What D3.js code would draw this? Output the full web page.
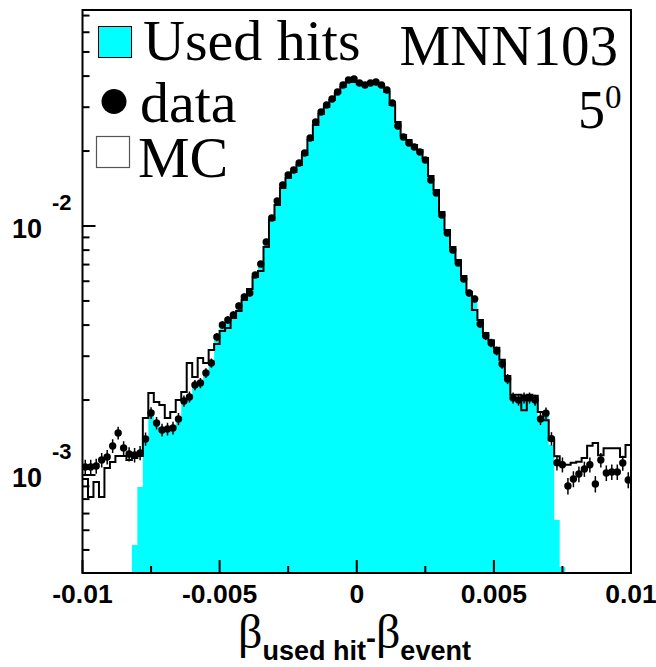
<!DOCTYPE html>
<html>
<head>
<meta charset="utf-8">
<script src="https://cdn.jsdelivr.net/npm/d3@7"></script>
<style>
  html, body { margin: 0; padding: 0; background: #fff; }
  svg { display: block; }
</style>
</head>
<body>
<svg id="chart" width="656" height="667"></svg>
<script>
// Histogram binning: 100 bins over [-0.01, 0.01]
const binLow = -0.01;
const binHigh = 0.01;
const nBins = 100;

// Normalised distribution of beta(used hit) - beta(event), measured data
const dataValues = [
  1.077e-3, 1.077e-3, 1.087e-3, 1.149e-3, 1.181e-3, 1.308e-3, 1.475e-3, 1.284e-3, 1.214e-3, 1.203e-3,
  1.226e-3, 1.395e-3, 1.774e-3, 1.617e-3, 1.516e-3, 1.530e-3, 1.545e-3, 1.679e-3, 1.982e-3, 2.058e-3,
  2.298e-3, 2.342e-3, 2.568e-3, 2.818e-3, 3.583e-3, 4.003e-3, 4.193e-3, 4.391e-3, 4.771e-3, 5.187e-3,
  5.382e-3, 6.357e-3, 7.037e-3, 8.625e-3, 1.077e-2, 1.260e-2, 1.461e-2, 1.603e-2, 1.679e-2, 1.791e-2,
  1.964e-2, 2.256e-2, 2.616e-2, 2.870e-2, 3.062e-2, 3.236e-2, 3.452e-2, 3.684e-2, 3.858e-2, 3.894e-2,
  3.752e-2, 3.684e-2, 3.752e-2, 3.787e-2, 3.684e-2, 3.516e-2, 3.119e-2, 2.521e-2, 2.278e-2, 2.154e-2,
  2.076e-2, 1.982e-2, 1.841e-2, 1.530e-2, 1.357e-2, 1.107e-2, 9.37e-3, 8.01e-3, 7.10e-3, 6.12e-3,
  5.38e-3, 5.09e-3, 4.04e-3, 3.62e-3, 3.39e-3, 3.15e-3, 2.79e-3, 2.43e-3, 2.04e-3, 2.00e-3,
  2.04e-3, 2.04e-3, 2.00e-3, 1.68e-3, 1.77e-3, 1.40e-3, 1.12e-3, 1.10e-3, 9.03e-4, 9.64e-4,
  1.009e-3, 1.057e-3, 1.10e-3, 9.20e-4, 1.149e-3, 1.019e-3, 1.028e-3, 1.028e-3, 1.117e-3, 9.55e-4
];

// Simulation (MC) histogram
const mcValues = [
  9.64e-4, 8.16e-4, 9.37e-4, 8.16e-4, 1.067e-3, 1.128e-3, 1.192e-3, 1.192e-3, 1.149e-3, 1.170e-3,
  1.192e-3, 1.694e-3, 2.136e-3, 1.964e-3, 1.910e-3, 1.694e-3, 1.791e-3, 2.000e-3, 2.154e-3, 2.818e-3,
  2.474e-3, 2.951e-3, 2.818e-3, 3.177e-3, 3.359e-3, 3.788e-3, 3.895e-3, 4.271e-3, 4.557e-3, 5.045e-3,
  5.584e-3, 6.239e-3, 6.596e-3, 8.236e-3, 1.057e-2, 1.214e-2, 1.421e-2, 1.559e-2, 1.648e-2, 1.758e-2,
  1.928e-2, 2.215e-2, 2.544e-2, 2.818e-2, 3.005e-2, 3.206e-2, 3.420e-2, 3.616e-2, 3.787e-2, 3.787e-2,
  3.718e-2, 3.718e-2, 3.718e-2, 3.718e-2, 3.650e-2, 3.452e-2, 3.062e-2, 2.616e-2, 2.320e-2, 2.215e-2,
  2.115e-2, 2.020e-2, 1.876e-2, 1.588e-2, 1.395e-2, 1.138e-2, 9.64e-3, 8.24e-3, 7.30e-3, 6.30e-3,
  5.43e-3, 4.60e-3, 4.19e-3, 3.72e-3, 3.48e-3, 3.24e-3, 2.90e-3, 2.50e-3, 2.10e-3, 2.10e-3,
  1.82e-3, 2.10e-3, 2.08e-3, 1.79e-3, 1.66e-3, 1.38e-3, 1.19e-3, 1.10e-3, 1.10e-3, 1.12e-3,
  1.13e-3, 1.17e-3, 1.31e-3, 1.344e-3, 1.20e-3, 1.28e-3, 1.28e-3, 1.28e-3, 1.18e-3, 1.32e-3
];

// Hits kept by the fit (inside the acceptance window)
const usedHitsValues = [
  0, 0, 0, 0, 0, 0, 0, 0, 0, 5.24e-4,
  8.95e-4, 1.38e-3, 1.774e-3, 1.617e-3, 1.516e-3, 1.530e-3, 1.545e-3, 1.679e-3, 1.982e-3, 2.058e-3,
  2.298e-3, 2.342e-3, 2.568e-3, 2.818e-3, 3.583e-3, 4.003e-3, 4.193e-3, 4.391e-3, 4.771e-3, 5.187e-3,
  5.382e-3, 6.357e-3, 7.037e-3, 8.625e-3, 1.077e-2, 1.260e-2, 1.461e-2, 1.603e-2, 1.679e-2, 1.791e-2,
  1.964e-2, 2.256e-2, 2.616e-2, 2.870e-2, 3.062e-2, 3.236e-2, 3.452e-2, 3.684e-2, 3.858e-2, 3.894e-2,
  3.752e-2, 3.684e-2, 3.752e-2, 3.787e-2, 3.684e-2, 3.516e-2, 3.119e-2, 2.521e-2, 2.278e-2, 2.154e-2,
  2.076e-2, 1.982e-2, 1.841e-2, 1.530e-2, 1.357e-2, 1.107e-2, 9.37e-3, 8.01e-3, 7.10e-3, 6.12e-3,
  5.38e-3, 5.09e-3, 4.04e-3, 3.62e-3, 3.39e-3, 3.15e-3, 2.79e-3, 2.43e-3, 2.04e-3, 2.00e-3,
  2.04e-3, 2.04e-3, 2.00e-3, 1.68e-3, 1.77e-3, 1.32e-3, 6.60e-4, 4.27e-4, 0, 0,
  0, 0, 0, 0, 0, 0, 0, 0, 0, 0
];

// Entries behind the normalised data (sets the Poisson error bars)
const totalEntries = 190000;

// Axis ranges and tick labels
const xDomain = [-0.01, 0.01];
const yDomain = [4.04e-4, 0.0737];
const xTickValues = [-0.01, -0.0075, -0.005, -0.0025, 0, 0.0025, 0.005, 0.0075, 0.01];
const xLabelValues = [-0.01, -0.005, 0, 0.005, 0.01];
const xLabelTexts = ["-0.01", "-0.005", "0", "0.005", "0.01"];
const yDecadeValues = [1e-3, 1e-2];
const yDecadeExponents = ["-3", "-2"];

const legendLabels = ["Used hits", "data", "MC"];
const detectorLabel = "MNN103";
const angleLabel = "5";
const angleSup = "0";

// ---- layout ----
const plot = { left: 82.5, right: 631, top: 10, bottom: 573 };
const cyan = "#00ffff";
const serif = "'Liberation Serif', 'Times New Roman', serif";
const sans = "'Liberation Sans', Arial, Helvetica, sans-serif";

const svg = d3.select("#chart");

const x = d3.scaleLinear().domain(xDomain).range([plot.left, plot.right]);
const y = d3.scaleLog().domain(yDomain).range([plot.bottom, plot.top]);

const binWidth = (binHigh - binLow) / nBins;
const edge = i => binLow + i * binWidth;

svg.append("defs").append("clipPath").attr("id", "plotClip")
  .append("rect")
  .attr("x", plot.left).attr("y", plot.top)
  .attr("width", plot.right - plot.left).attr("height", plot.bottom - plot.top);

const g = svg.append("g").attr("clip-path", "url(#plotClip)");

// Used-hits filled histogram: one step area per contiguous non-empty run
const runs = [];
let cur = null;
usedHitsValues.forEach((v, i) => {
  if (v > 0) {
    if (!cur) { cur = []; runs.push(cur); }
    cur.push({ x: edge(i), v: v });
  } else {
    if (cur) cur.push({ x: edge(i), v: cur[cur.length - 1].v });
    cur = null;
  }
});
if (cur) cur.push({ x: binHigh, v: cur[cur.length - 1].v });

const area = d3.area()
  .x(d => x(d.x))
  .y0(plot.bottom + 5)
  .y1(d => y(d.v))
  .curve(d3.curveStepAfter);

runs.forEach(r => {
  g.append("path").attr("d", area(r)).attr("fill", cyan).attr("stroke", "none");
});

// MC step outline
const mcPts = mcValues.map((v, i) => ({ x: edge(i), v: v }));
mcPts.push({ x: binHigh, v: mcValues[nBins - 1] });
const line = d3.line().x(d => x(d.x)).y(d => y(d.v)).curve(d3.curveStepAfter);
g.append("path").attr("d", line(mcPts))
  .attr("fill", "none").attr("stroke", "#000").attr("stroke-width", 2);

// Data points with statistical errors
const dataPts = dataValues.map((v, i) => {
  const err = Math.sqrt(v / totalEntries);
  return { xc: edge(i) + binWidth / 2, v: v, lo: v - err, hi: v + err };
});
g.selectAll("line.err").data(dataPts).enter().append("line")
  .attr("class", "err")
  .attr("x1", d => x(d.xc)).attr("x2", d => x(d.xc))
  .attr("y1", d => y(d.lo)).attr("y2", d => y(d.hi))
  .attr("stroke", "#000").attr("stroke-width", 1.5);
g.selectAll("circle.pt").data(dataPts).enter().append("circle")
  .attr("class", "pt")
  .attr("cx", d => x(d.xc)).attr("cy", d => y(d.v)).attr("r", 3.7)
  .attr("fill", "#000");

// Frame
svg.append("rect")
  .attr("x", plot.left).attr("y", plot.top)
  .attr("width", plot.right - plot.left).attr("height", plot.bottom - plot.top)
  .attr("fill", "none").attr("stroke", "#000").attr("stroke-width", 2);

// X ticks (inward)
const axes = svg.append("g").attr("stroke", "#000").attr("stroke-width", 2);
xTickValues.forEach(t => {
  const major = Math.abs(Math.round(t / 0.005) * 0.005 - t) < 1e-9;
  axes.append("line")
    .attr("x1", x(t)).attr("x2", x(t))
    .attr("y1", plot.bottom).attr("y2", plot.bottom - (major ? 13 : 7));
});

// Y ticks (log, inward)
const yTicks = [];
[1e-4, 1e-3, 1e-2].forEach(dec => {
  for (let k = 1; k <= 9; k++) {
    const v = k * dec;
    if (v >= yDomain[0] && v <= yDomain[1]) yTicks.push({ v: v, major: k === 1 });
  }
});
yTicks.forEach(t => {
  axes.append("line")
    .attr("x1", plot.left).attr("x2", plot.left + (t.major ? 13 : 7))
    .attr("y1", y(t.v)).attr("y2", y(t.v));
});

// X tick labels
svg.append("g").selectAll("text").data(xLabelValues).enter().append("text")
  .attr("x", d => x(d)).attr("y", 603)
  .attr("text-anchor", "middle")
  .attr("font-family", sans).attr("font-weight", "bold").attr("font-size", 26.5)
  .text((d, i) => xLabelTexts[i]);

// Y decade labels: 10 with exponent
yDecadeValues.forEach((v, i) => {
  const yy = y(v);
  svg.append("text")
    .attr("x", 42).attr("y", yy + 12).attr("text-anchor", "end")
    .attr("font-family", sans).attr("font-weight", "bold").attr("font-size", 27)
    .text("10");
  svg.append("text")
    .attr("x", 52).attr("y", yy - 16)
    .attr("font-family", sans).attr("font-weight", "bold").attr("font-size", 22)
    .text(yDecadeExponents[i]);
});

// Axis title: beta_{used hit} - beta_{event}
const title = svg.append("text").attr("x", 238).attr("y", 648);
title.append("tspan").attr("font-family", serif).attr("font-size", 48).text("β");
title.append("tspan").attr("font-family", sans).attr("font-weight", "bold")
  .attr("font-size", 27).attr("dy", 12).text("used hit");
title.append("tspan").attr("font-family", sans).attr("font-weight", "bold")
  .attr("font-size", 30).attr("dy", -12).text("-");
title.append("tspan").attr("font-family", serif).attr("font-size", 48).text("β");
title.append("tspan").attr("font-family", sans).attr("font-weight", "bold")
  .attr("font-size", 27).attr("dy", 12).text("event");

// Legend
const leg = svg.append("g");
leg.append("rect").attr("x", 98.5).attr("y", 26.5).attr("width", 33).attr("height", 31)
  .attr("fill", cyan).attr("stroke", "#000").attr("stroke-width", 1);
leg.append("circle").attr("cx", 114).attr("cy", 101.5).attr("r", 12.5).attr("fill", "#000");
leg.append("rect").attr("x", 96.5).attr("y", 136.5).attr("width", 33).attr("height", 31)
  .attr("fill", "#fff").attr("stroke", "#555").attr("stroke-width", 1.2);
const legY = [60, 122, 177];
const legX = [143, 140, 138];
legendLabels.forEach((t, i) => {
  leg.append("text").attr("x", legX[i]).attr("y", legY[i])
    .attr("font-family", serif).attr("font-size", 58).text(t);
});

// Detector and angle annotation
svg.append("text").attr("x", 618).attr("y", 65).attr("text-anchor", "end")
  .attr("font-family", serif).attr("font-size", 57).text(detectorLabel);
const ang = svg.append("text").attr("x", 578).attr("y", 128)
  .attr("font-family", serif).attr("font-size", 54);
ang.append("tspan").text(angleLabel);
ang.append("tspan").attr("font-size", 33).attr("dy", -20).text(angleSup);
</script>
</body>
</html>
